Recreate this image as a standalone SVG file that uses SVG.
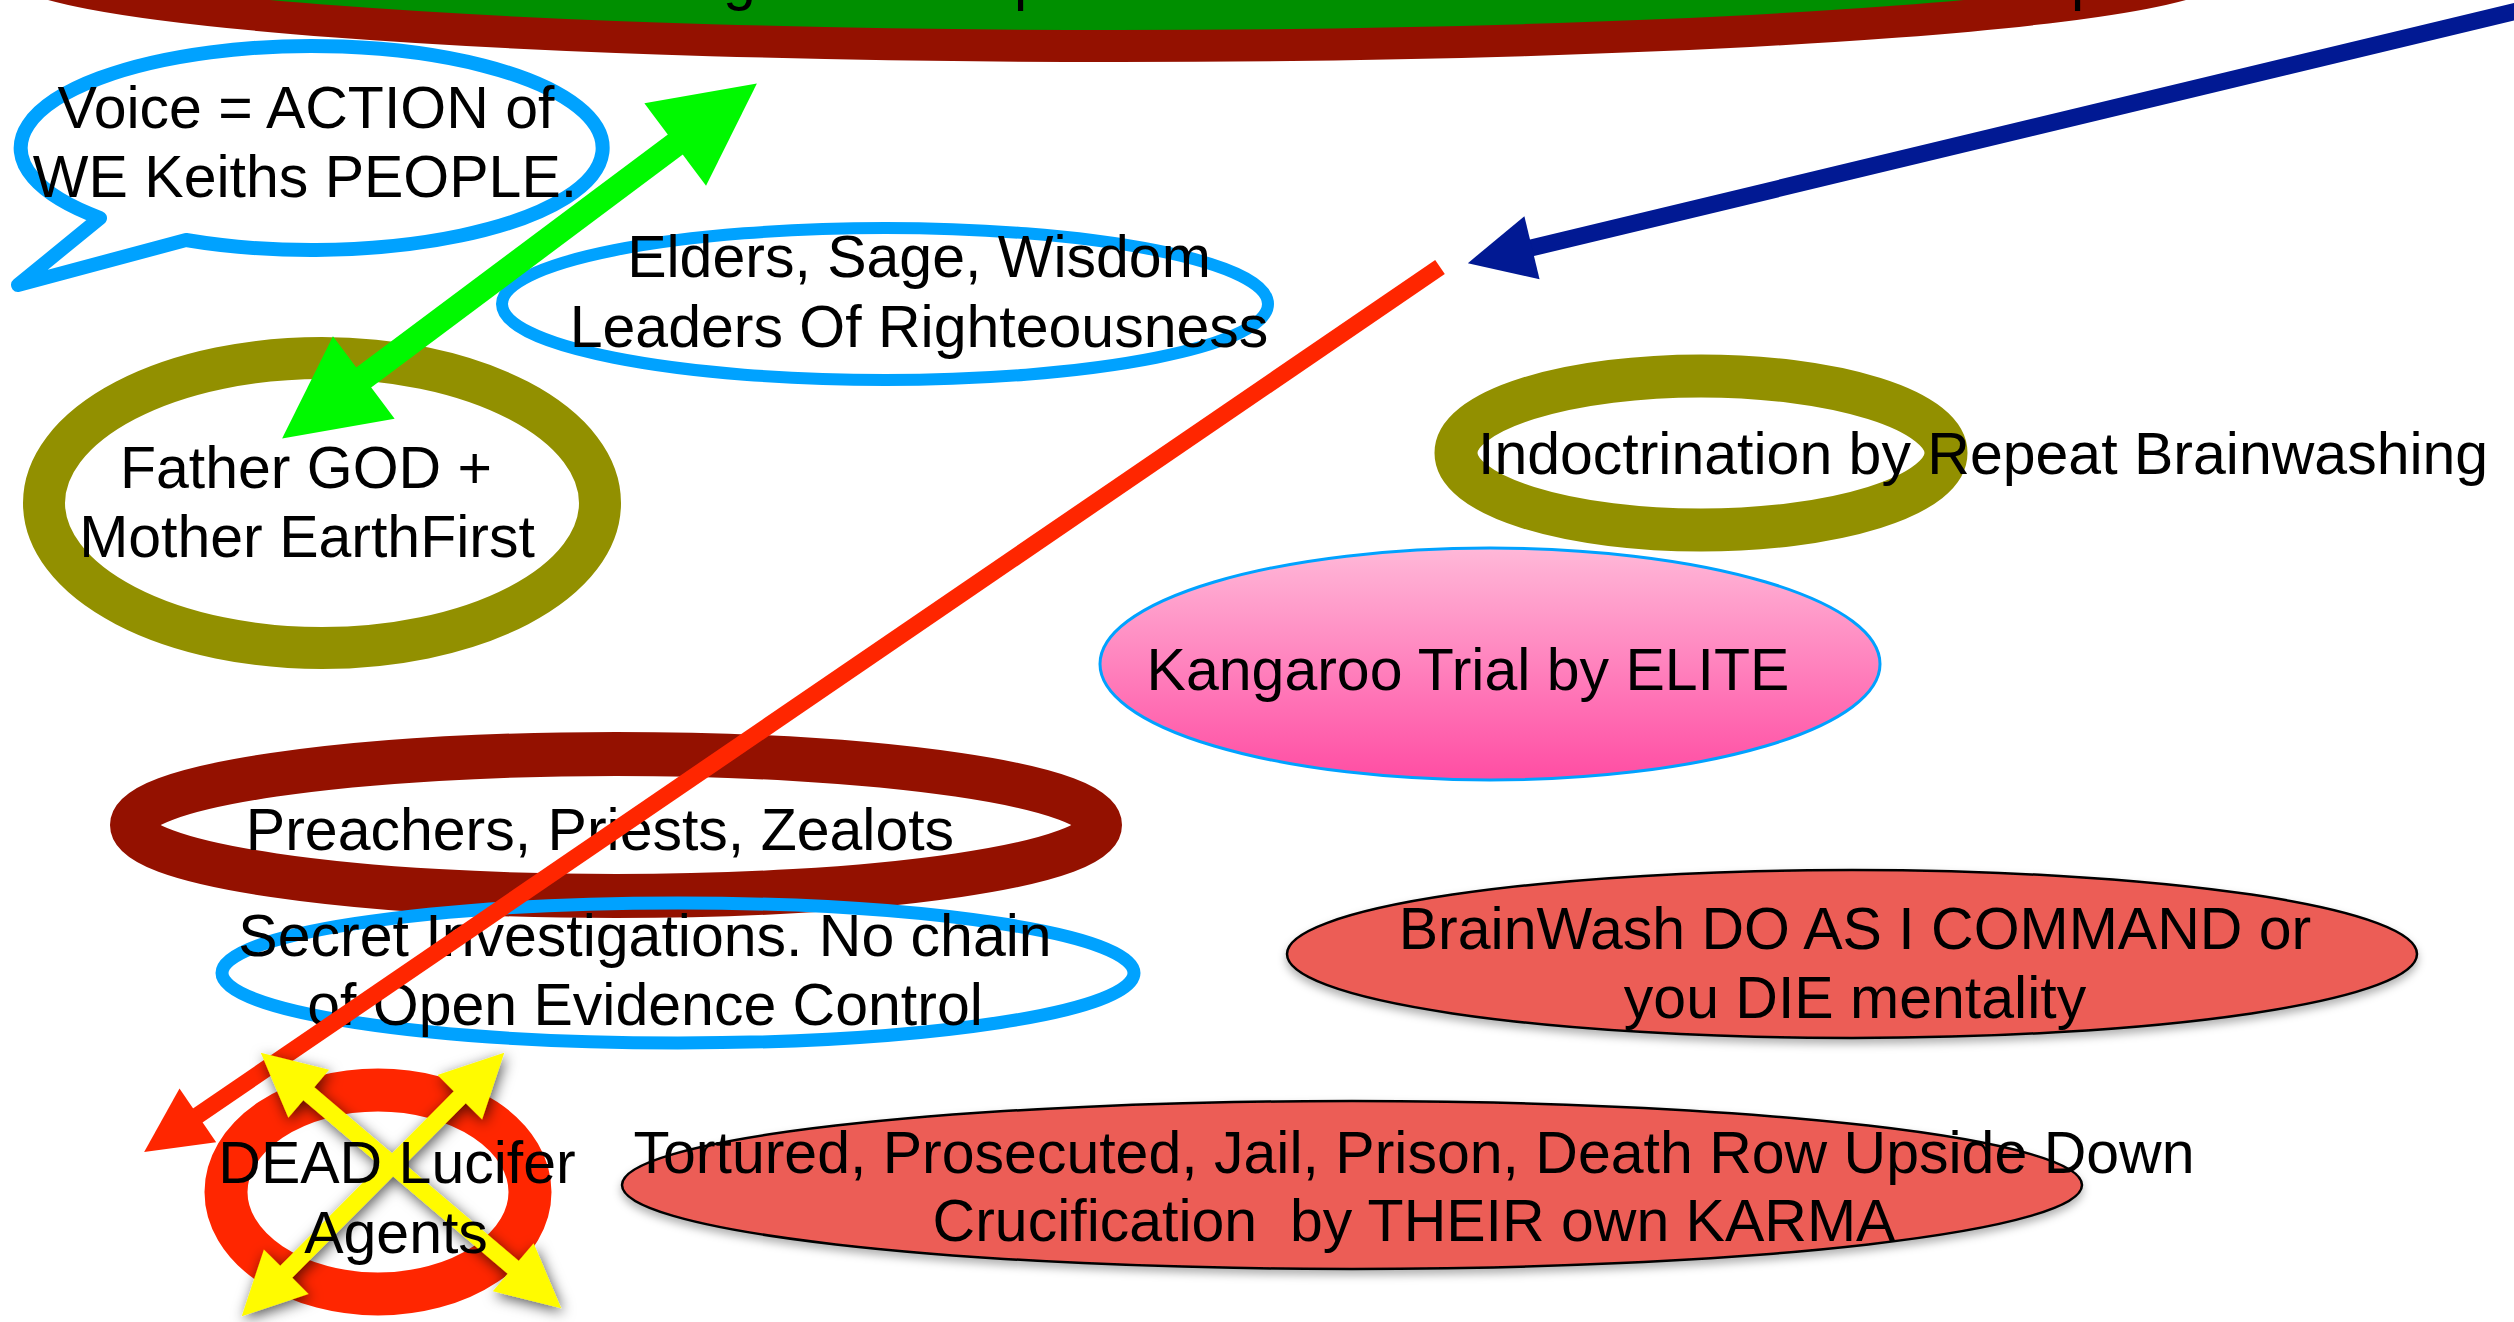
<svg xmlns="http://www.w3.org/2000/svg" width="2514" height="1322" viewBox="0 0 2514 1322">
<defs>
<style>
text{font-family:"Liberation Sans",Arial,Helvetica,sans-serif;font-size:59px;fill:#000}
.c{text-anchor:middle}
.blue{fill:none;stroke:#00A2FF}
.olive{fill:none;stroke:#929000;stroke-width:43}
.redfill{fill:#EC5D57;stroke:#000;stroke-width:2.5}
.pre{white-space:pre}
</style>
<linearGradient id="pink" x1="0" y1="0" x2="0" y2="1">
<stop offset="0" stop-color="#FFB8D8"/>
<stop offset="1" stop-color="#FF4DA3"/>
</linearGradient>
<filter id="shadow" x="-10%" y="-20%" width="120%" height="160%">
<feDropShadow dx="0" dy="5" stdDeviation="4" flood-color="#000" flood-opacity="0.3"/>
</filter>
<filter id="yshadow" x="-40%" y="-40%" width="180%" height="180%">
<feDropShadow dx="2" dy="4" stdDeviation="7" flood-color="#000" flood-opacity="0.65"/>
</filter>
<marker id="mGreen" markerUnits="userSpaceOnUse" markerWidth="110" markerHeight="110" refX="1" refY="51.5" orient="auto-start-reverse" overflow="visible">
<path d="M0 0 L102 51.5 L0 103 Z" fill="#00F900"/>
</marker>
<marker id="mNavy" markerUnits="userSpaceOnUse" markerWidth="70" markerHeight="70" refX="1" refY="32.5" orient="auto-start-reverse" overflow="visible">
<path d="M0 0 L66 32.5 L0 65 Z" fill="#011993"/>
</marker>
<marker id="mRed" markerUnits="userSpaceOnUse" markerWidth="70" markerHeight="70" refX="1" refY="32.5" orient="auto-start-reverse" overflow="visible">
<path d="M0 0 L65 32.5 L0 65 Z" fill="#FF2600"/>
</marker>
<marker id="mYellow" markerUnits="userSpaceOnUse" markerWidth="70" markerHeight="70" refX="1" refY="31.5" orient="auto-start-reverse" overflow="visible">
<path d="M0 0 L63 31.5 L0 63 Z" fill="#FFFB00"/>
</marker>
</defs>
<rect width="2514" height="1322" fill="#fff"/>

<g id="top-banner">
<ellipse cx="1117" cy="-37.5" rx="1104" ry="83.5" fill="#008F00" stroke="#941100" stroke-width="32"/>
<text x="723" y="-1">g</text>
<text x="1014" y="-1">p</text>
<text x="2071" y="-1">p</text>
</g>

<g id="voice-bubble">
<path d="M100 218 L18 285 L186 240 A291 102 0 1 0 100 218 Z" fill="#fff" stroke="#00A2FF" stroke-width="14" stroke-linejoin="round"/>
<text class="c" x="306" y="128">Voice = ACTION of</text>
<text class="c" x="305" y="197">WE Keiths PEOPLE.</text>
</g>

<g id="elders">
<ellipse class="blue" cx="885" cy="304" rx="383" ry="76" stroke-width="12"/>
<text class="c" x="919" y="277">Elders, Sage, Wisdom</text>
<text class="c" x="919" y="347">Leaders Of Righteousness</text>
</g>

<g id="father-god">
<ellipse class="olive" cx="322" cy="503" rx="278" ry="145" style="stroke-width:42"/>
<text class="c" x="306" y="488">Father GOD +</text>
<text class="c" x="307" y="557">Mother EarthFirst</text>
</g>

<g id="indoctrination">
<ellipse class="olive" cx="1701" cy="453" rx="245" ry="77"/>
<text x="1478" y="474">Indoctrination by Repeat Brainwashing</text>
</g>

<g id="kangaroo">
<ellipse cx="1490" cy="664" rx="390" ry="116" fill="url(#pink)" stroke="#00A2FF" stroke-width="3"/>
<text class="c" x="1468" y="690">Kangaroo Trial by ELITE</text>
</g>

<g id="preachers">
<ellipse cx="616" cy="825" rx="484" ry="71" fill="none" stroke="#941100" stroke-width="44"/>
<text class="c" x="600" y="850">Preachers, Priests, Zealots</text>
</g>

<g id="secret">
<ellipse class="blue" cx="678" cy="973" rx="456" ry="70" stroke-width="13"/>
<text class="c" x="645" y="956">Secret Investigations. No chain</text>
<text class="c" x="645" y="1025">of Open Evidence Control</text>
</g>

<g id="brainwash">
<ellipse class="redfill" cx="1852" cy="954" rx="565" ry="84" filter="url(#shadow)"/>
<text class="c" x="1855" y="949">BrainWash DO AS I COMMAND or</text>
<text class="c" x="1855" y="1018">you DIE mentality</text>
</g>

<g id="tortured">
<ellipse class="redfill" cx="1352" cy="1185" rx="730" ry="84" filter="url(#shadow)"/>
<text class="c" x="1414" y="1173">Tortured, Prosecuted, Jail, Prison, Death Row Upside Down</text>
<text class="c pre" x="1414" y="1241" xml:space="preserve">Crucification  by THEIR own KARMA</text>
</g>

<g id="connectors" fill="none" stroke-linecap="butt">
<path id="green-arrow" d="M363 378 L676 144" stroke="#00F900" stroke-width="25" marker-start="url(#mGreen)" marker-end="url(#mGreen)"/>
<path id="navy-arrow" d="M2523 9.5 L1531 248" stroke="#011993" stroke-width="17" marker-end="url(#mNavy)"/>
<path id="red-arrow" d="M1440 267 L197 1116" stroke="#FF2600" stroke-width="17" marker-end="url(#mRed)"/>
</g>

<g id="dead-lucifer">
<ellipse cx="378" cy="1192" rx="152" ry="102" fill="none" stroke="#FF2600" stroke-width="43"/>
<g filter="url(#yshadow)" fill="none">
<path d="M308 1093 L514 1268" stroke="#FFFB00" stroke-width="17" marker-start="url(#mYellow)" marker-end="url(#mYellow)"/>
<path d="M460.5 1096.6 L285.5 1272.4" stroke="#FFFB00" stroke-width="17" marker-start="url(#mYellow)" marker-end="url(#mYellow)"/>
</g>
<text class="c" x="397" y="1183">DEAD Lucifer</text>
<text class="c" x="396" y="1253">Agents</text>
</g>
</svg>
